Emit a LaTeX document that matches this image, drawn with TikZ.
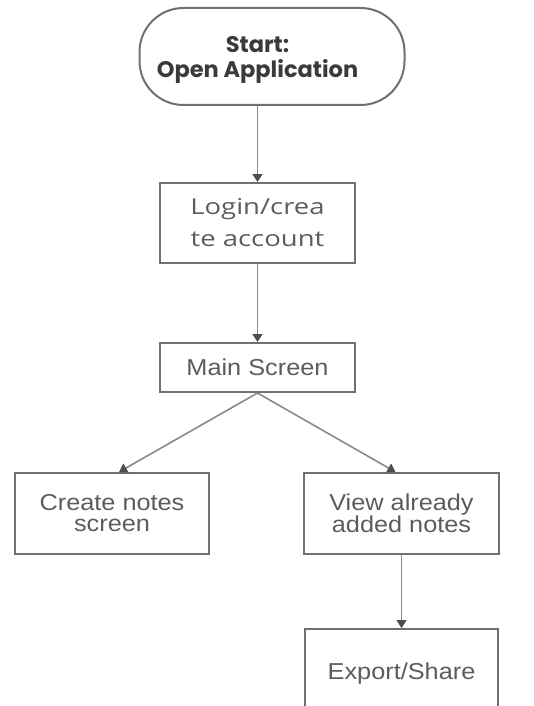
\documentclass[tikz,border=0pt]{standalone}
\usepackage{fontspec}
\setmainfont{Liberation Sans}
\newfontfamily\boxfont{Liberation Sans}[FakeStretch=1.1]
\newfontfamily\loginfont{Open Sans}[FakeStretch=1.25]
\newfontfamily\titlefont{Poppins}
\usetikzlibrary{arrows.meta}
\definecolor{shapegray}{HTML}{707070}
\definecolor{linegray}{HTML}{8A8A8A}
\definecolor{tipgray}{HTML}{4D4D4D}
\definecolor{textgray}{HTML}{5C5C5C}
\definecolor{titlegray}{HTML}{3A3A3A}
\begin{document}
\begin{tikzpicture}[x=1pt, y=-1pt,
    terminal/.style={draw=shapegray, line width=2pt, rounded corners=44pt, minimum width=265pt, minimum height=97pt},
    box/.style={draw=shapegray, line width=2pt, minimum width=195pt, text=textgray, align=center, font=\boxfont\fontsize{23}{21}\selectfont},
    flow/.style={draw=linegray, line width=1.6pt, -{Triangle[width=10pt, length=8pt, color=tipgray]}}]
            \useasboundingbox (0,0) rectangle (534,706);
            \node[terminal] (start) at (272,56.5) {};
            \node[align=center, text=titlegray, font=\titlefont\bfseries\fontsize{22.5}{25}\selectfont] (starttext) at (257.5,60) {Start:\\Open Application};
            \node[box, minimum height=80pt, font=\loginfont\fontsize{22}{32}\selectfont] (login) at (257.5,223) {Login/crea\\te account};
            \node[box, minimum height=49pt] (main) at (257.5,367.5) {Main Screen};
            \node[box, minimum width=194pt, minimum height=81pt] (create) at (112,513.5) {Create notes\\screen};
            \node[box, minimum height=81pt] (view) at (401.5,513.5) {View already\\added notes};
            \node[box, minimum width=193pt, minimum height=90pt] (export) at (401.5,674) {Export/Share};
            \draw[flow] (start.south -| login.north) -- (login.north);
            \draw[flow] (login) -- (main);
            \draw[flow] (main.south) -- ([xshift=7pt]create.north);
            \draw[flow] (main.south) -- ([xshift=-6pt]view.north);
            \draw[flow] (view) -- (export);
        \end{tikzpicture}
\end{document}
